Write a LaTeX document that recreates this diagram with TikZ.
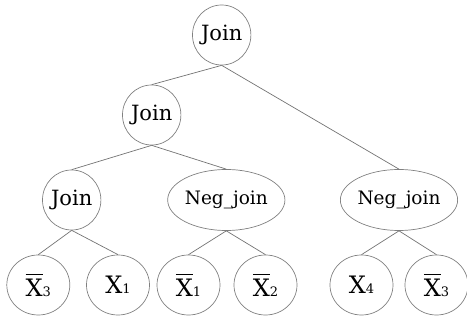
\documentclass[tikz,border=0pt]{standalone}
\usepackage{fontspec}
\setmainfont{DejaVu Serif}
\usetikzlibrary{shapes.geometric}
\newcommand\barX{\leavevmode\rlap{\rule[\dimexpr\fontcharht\font`X+3.5pt\relax]{\fontcharwd\font`X}{1.3pt}}X}
\newcommand\subd[1]{{\fontsize{13}{13}\selectfont #1}}
\tikzset{
  gnode/.style={ellipse, draw=black!50, line width=0.7pt, inner sep=0pt},
  joinnode/.style={gnode, minimum width=57pt, minimum height=60pt, font=\fontsize{21}{21}\selectfont},
  negnode/.style={gnode, minimum width=110pt, minimum height=61pt, font=\fontsize{18.5}{18.5}\selectfont},
  leafnode/.style={gnode, minimum width=63pt, minimum height=60pt, font=\fontsize{24}{24}\selectfont},
  edge/.style={draw=black!55, line width=0.7pt}
}
\begin{document}
\begin{tikzpicture}[x=1pt,y=-1pt]
\useasboundingbox (0,0) rectangle (467,320);
\node[joinnode] (j0) at (221.7,35) {Join};
\node[joinnode] (j1) at (151.7,115) {Join};
\node[joinnode] (j2) at (71.7,200) {Join};
\node[negnode] (n1) at (226.3,200) {Neg\_join};
\node[negnode] (n2) at (399,200) {Neg\_join};
\node[leafnode] (l1) at (38.3,285) {\barX\subd{3}};
\node[leafnode] (l2) at (118,285) {X\subd{1}};
\node[leafnode] (l3) at (188.5,285) {\barX\subd{1}};
\node[leafnode] (l4) at (265.5,285) {\barX\subd{2}};
\node[leafnode] (l5) at (361.5,285) {X\subd{4}};
\node[leafnode] (l6) at (436.5,285) {\barX\subd{3}};
\draw[edge] (j0.south) -- (j1.north);
\draw[edge] (j0.south) -- (n2.north);
\draw[edge] (j1.south) -- (j2.north);
\draw[edge] (j1.south) -- (n1.north);
\draw[edge] (j2.south) -- (l1.north);
\draw[edge] (j2.south) -- (l2.north);
\draw[edge] (n1.south) -- (l3.north);
\draw[edge] (n1.south) -- (l4.north);
\draw[edge] (n2.south) -- (l5.north);
\draw[edge] (n2.south) -- (l6.north);
\end{tikzpicture}
\end{document}
